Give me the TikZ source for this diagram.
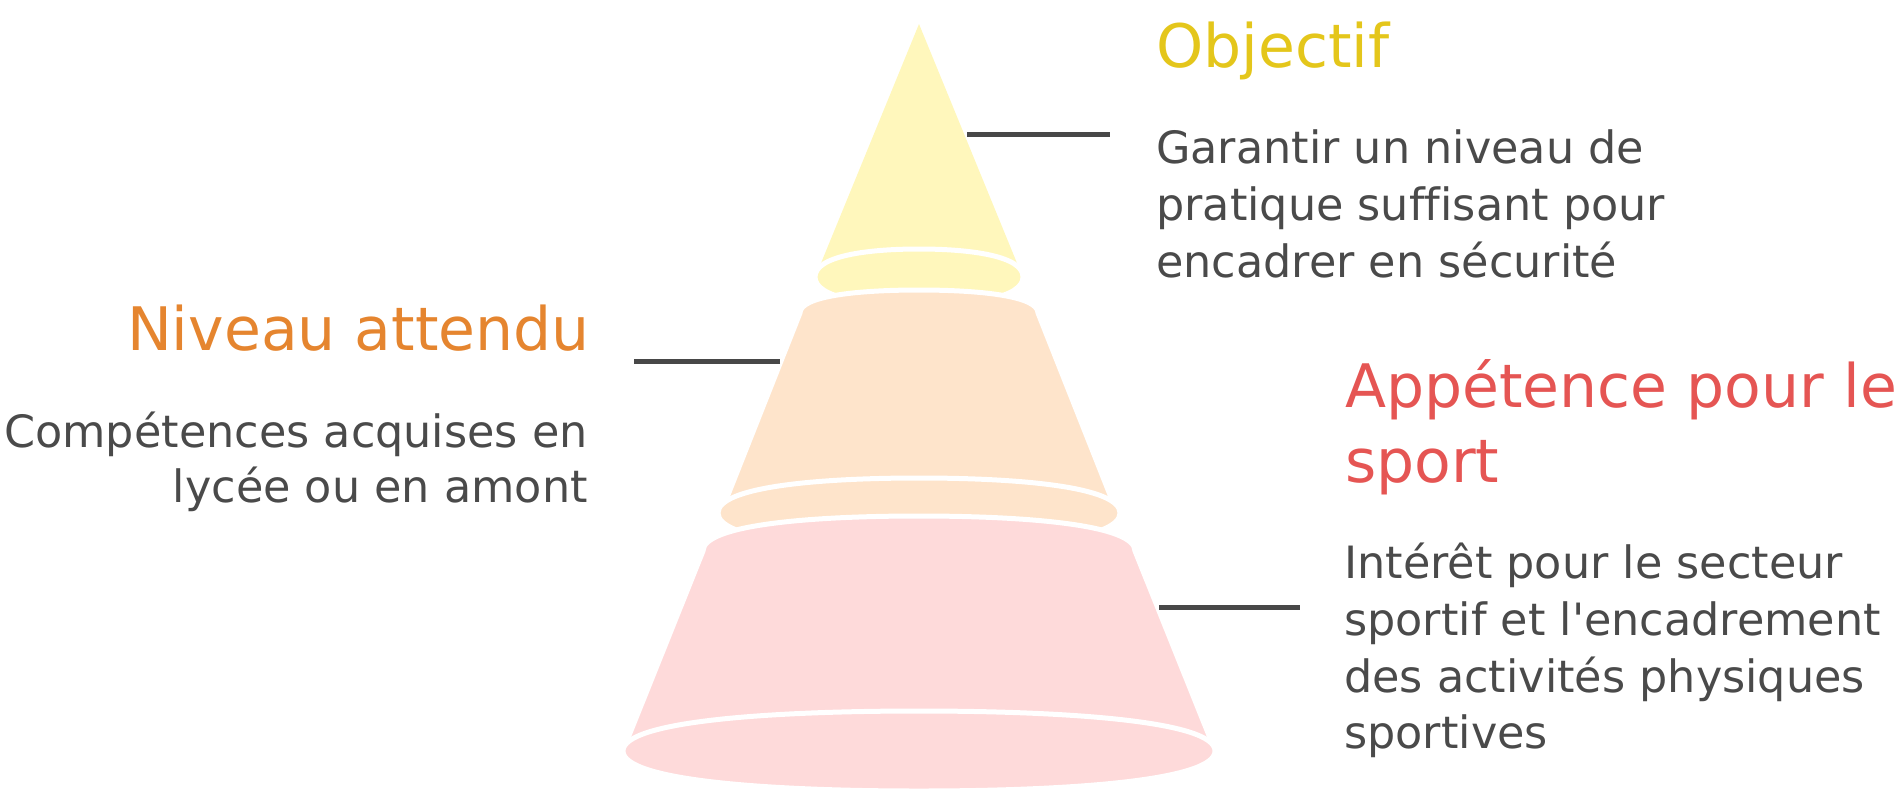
\documentclass[tikz,border=0pt]{standalone}
\usepackage{fontspec}
\setmainfont{DejaVu Sans}[Ligatures={TeXOff,NoCommon}]
\definecolor{fillY}{HTML}{FFF7BC}
\definecolor{fillO}{HTML}{FEE4CB}
\definecolor{fillP}{HTML}{FEDADA}
\definecolor{titY}{HTML}{E4C61B}
\definecolor{titO}{HTML}{E5852F}
\definecolor{titP}{HTML}{E55553}
\definecolor{txtgray}{HTML}{4A4A4A}
\definecolor{linegray}{HTML}{484848}
\newcommand{\mytop}[4]{({#1-#3},#2) .. controls ({#1-#3},{#2-0.75*#4}) and ({#1-0.5*#3},{#2-#4}) .. (#1,{#2-#4}) .. controls ({#1+0.5*#3},{#2-#4}) and ({#1+#3},{#2-0.75*#4}) .. ({#1+#3},#2)}
\newcommand{\mydisc}[4]{\mytop{#1}{#2}{#3}{#4} .. controls ({#1+#3},{#2+0.75*#4}) and ({#1+0.5*#3},{#2+#4}) .. (#1,{#2+#4}) .. controls ({#1-0.5*#3},{#2+#4}) and ({#1-#3},{#2+0.75*#4}) .. ({#1-#3},#2) -- cycle}
\tikzset{
  layer/.style={fill=#1, draw=white, line width=5pt, line join=round},
  connector/.style={draw=linegray, line width=5pt},
  titletext/.style={font=\fontsize{60}{75}\selectfont, inner sep=0pt, text=#1},
  bodytext/.style={font=\fontsize{44.5}{57}\selectfont, inner sep=0pt, text=txtgray},
}
\begin{document}
\begin{tikzpicture}[x=1pt,y=-1pt]
\useasboundingbox (0,0) rectangle (1902,793);
% yellow layer
\path[fill=fillY] (919,24) -- (1019,268) -- (819,268) -- cycle;
\path[layer=fillY] \mydisc{919}{277}{104}{28};
% orange layer
\path[layer=fillO] \mytop{919}{313}{119}{23} -- (1114,505) -- (724,505) -- cycle;
\path[layer=fillO] \mydisc{919}{513}{201}{35};
% pink layer
\path[layer=fillP] \mytop{919}{551}{216}{35} -- (1212,743) -- (626,743) -- cycle;
\path[layer=fillP] \mydisc{919}{751}{296}{40};
% connectors
\coordinate (y1) at (967,134);
\coordinate (y2) at (1110,134);
\coordinate (o1) at (780,361);
\coordinate (o2) at (634,361);
\coordinate (p1) at (1159,607);
\coordinate (p2) at (1300,607);
\draw[connector] (y1) -- (y2);
\draw[connector] (o1) -- (o2);
\draw[connector] (p1) -- (p2);
% texts
\node[titletext=titY, anchor=base west] (objT) at (1156,67) {Objectif};
\node[bodytext, anchor=base west] (obj1) at (1156,163) {Garantir un niveau de};
\node[bodytext, anchor=base west] (obj2) at (1156,220) {pratique suffisant pour};
\node[bodytext, anchor=base west] (obj3) at (1156,277) {encadrer en sécurité};
\node[titletext=titO, anchor=base east] (nivT) at (590,350) {Niveau attendu};
\node[bodytext, anchor=base east] (niv1) at (588,447) {Compétences acquises en};
\node[bodytext, anchor=base east] (niv2) at (588,502) {lycée ou en amont};
\node[titletext=titP, anchor=base west] (appT1) at (1345,407) {Appétence pour le};
\node[titletext=titP, anchor=base west] (appT2) at (1345,482) {sport};
\node[bodytext, anchor=base west] (app1) at (1344,578) {Intérêt pour le secteur};
\node[bodytext, anchor=base west] (app2) at (1344,635) {sportif et l'encadrement};
\node[bodytext, anchor=base west] (app3) at (1344,692) {des activités physiques};
\node[bodytext, anchor=base west] (app4) at (1344,748) {sportives};
\end{tikzpicture}
\end{document}
